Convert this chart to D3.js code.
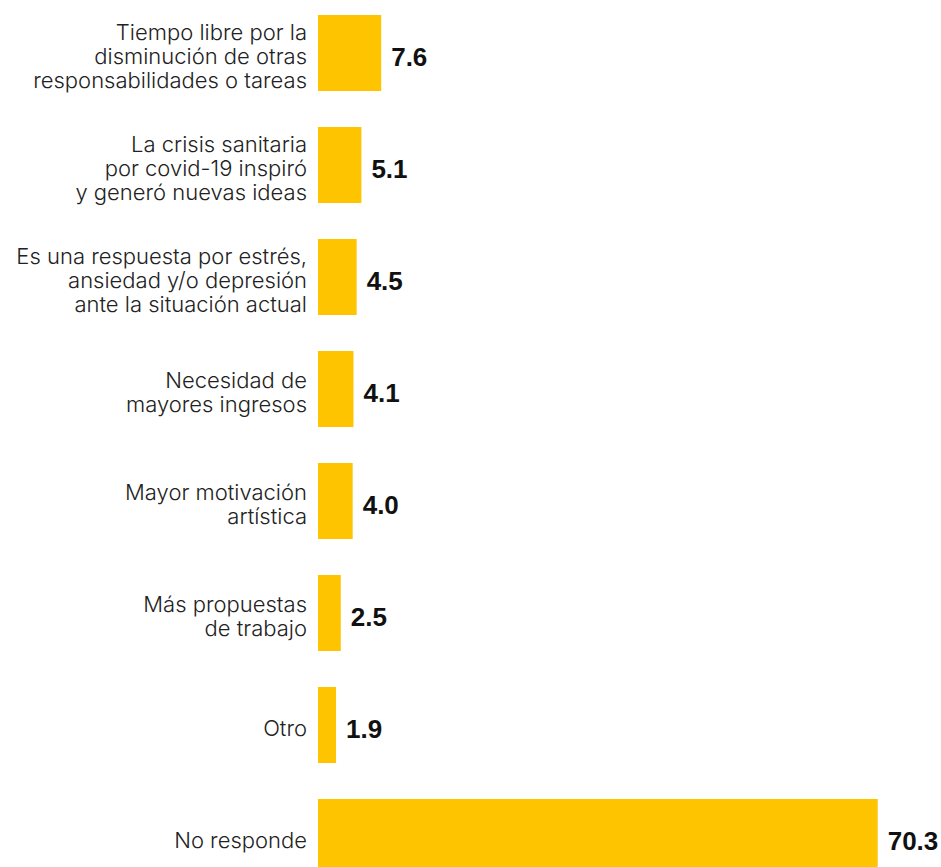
<!DOCTYPE html>
<html lang="es">
<head>
    <meta charset="UTF-8">
    <title>Motivos</title>
    <style>
        body { margin: 0; background: #fff; }
    </style>
</head>
<body>
    <svg id="chart" width="941" height="867"></svg>

    <script src="https://d3js.org/d3.v7.min.js"></script>
    <script>
        // categories, one entry per bar, line breaks as in the original
        const categories = [
            ["Tiempo libre por la", "disminución de otras", "responsabilidades o tareas"],
            ["La crisis sanitaria", "por covid-19 inspiró", "y generó nuevas ideas"],
            ["Es una respuesta por estrés,", "ansiedad y/o depresión", "ante la situación actual"],
            ["Necesidad de", "mayores ingresos"],
            ["Mayor motivación", "artística"],
            ["Más propuestas", "de trabajo"],
            ["Otro"],
            ["No responde"]
        ];
        const values = [7.6, 5.1, 4.5, 4.1, 4.0, 2.5, 1.9, 70.3];

        const barLeft = 318;
        const topY = 15;
        const step = 112;
        const barH = 76;
        const pad = (step - barH) / step;

        const svg = d3.select("#chart");

        const y = d3.scaleBand()
            .domain(d3.range(values.length))
            .range([topY, topY + step * (values.length - pad)])
            .paddingInner(pad)
            .paddingOuter(0);

        const x = d3.scaleLinear()
            .domain([0, 70.3])
            .range([barLeft + 3, 877.7]);

        const rows = svg.selectAll("g.row")
            .data(values)
            .enter()
            .append("g")
            .attr("class", "row");

        rows.append("rect")
            .attr("x", barLeft)
            .attr("y", (d, i) => y(i))
            .attr("width", d => x(d) - barLeft)
            .attr("height", y.bandwidth())
            .attr("fill", "#ffc400");

        rows.append("text")
            .attr("x", d => x(d) + 10)
            .attr("y", (d, i) => y(i) + y.bandwidth() / 2 + 13)
            .attr("font-family", "'Liberation Sans', Arial, sans-serif")
            .attr("font-weight", "bold")
            .attr("font-size", 26)
            .attr("fill", "#111")
            .text(d => d.toFixed(1));

        rows.each(function (d, i) {
            const lines = categories[i];
            const cy = y(i) + y.bandwidth() / 2;
            const t = d3.select(this).append("text")
                .attr("text-anchor", "end")
                .attr("font-family", "Inter, 'Liberation Sans', sans-serif")
                .attr("font-weight", 300)
                .attr("font-size", 22)
                .attr("fill", "#222");
            lines.forEach((ln, j) => {
                t.append("tspan")
                    .attr("x", barLeft - 11)
                    .attr("y", cy + 11 + (j - (lines.length - 1) / 2) * 24)
                    .text(ln);
            });
        });
    </script>
</body>
</html>
